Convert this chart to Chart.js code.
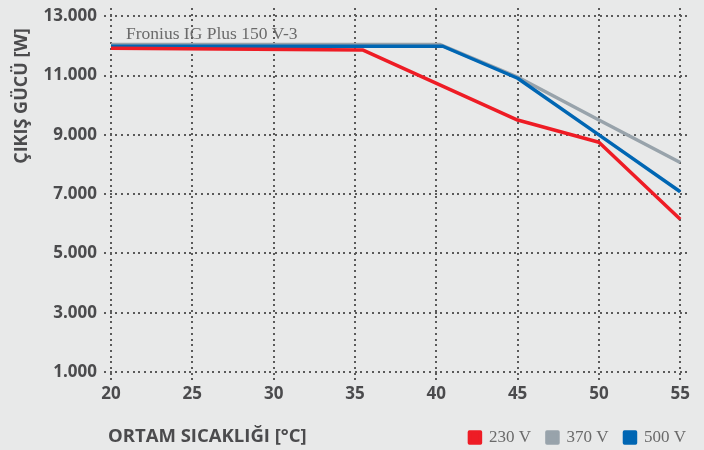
<!DOCTYPE html>
<html>
<head>
<meta charset="utf-8">
<script src="https://cdn.jsdelivr.net/npm/chart.js@4/dist/chart.umd.min.js"></script>
<style>
  html, body { margin: 0; padding: 0; background: #e8e9e9; }
  #wrap { width: 704px; height: 450px; }
</style>
</head>
<body>
<div id="wrap"><canvas id="c" width="704" height="450"></canvas></div>
<script>
// ---- data ----
const seriesLabels = ['230 V', '370 V', '500 V'];
const temp230 = [20, 35.5, 45, 50, 55];
const power230 = [11920, 11860, 9500, 8750, 6150];
const temp370 = [20, 40.2, 45, 50, 55];
const power370 = [12050, 12050, 10950, 9500, 8070];
const temp500 = [20, 40.4, 45, 50, 55];
const power500 = [11990, 11990, 10910, 9000, 7080];
const xTicks = [20, 25, 30, 35, 40, 45, 50, 55];
const yTicks = [1000, 3000, 5000, 7000, 9000, 11000, 13000];
const chartTitle = 'Fronius IG Plus 150 V-3';
const xTitle = 'ORTAM SICAKLIĞI [°C]';
const yTitle = 'ÇIKIŞ GÜCÜ [W]';

const colors = ['#ee1c25', '#98a3ab', '#0066b3'];
const textColor = '#4b4b4d';
const serifColor = '#6a6a6a';
const gridColor = '#5a5a5a';

function pts(xs, ys) { return xs.map((x, i) => ({ x: x, y: ys[i] })); }
function fmt(v) { return String(v).replace(/\B(?=(\d{3})+(?!\d))/g, '.'); }

// dotted grid drawn at the scales' tick pixels
const dotGrid = {
  id: 'dotGrid',
  beforeDatasetsDraw(chart) {
    const ctx = chart.ctx, a = chart.chartArea;
    const xs = chart.scales.x, ys = chart.scales.y;
    const tick = 7, step = 5.7, dot = 2;
    ctx.save();
    ctx.fillStyle = gridColor;
    xTicks.forEach(v => {
      const px = Math.round(xs.getPixelForValue(v)) - 1;
      for (let y = a.top; y <= a.bottom + tick; y += step) ctx.fillRect(px, Math.round(y), dot, dot);
    });
    yTicks.forEach(v => {
      const py = Math.round(ys.getPixelForValue(v)) - 1;
      for (let x = a.left - tick; x <= a.right; x += step) ctx.fillRect(Math.round(x), py, dot, dot);
    });
    ctx.restore();
  }
};

const textPlugin = {
  id: 'texts',
  afterLayout(chart) {
    const lg = chart.legend;
    if (lg) { lg.left += 12; lg.right += 12; lg.top += 6; lg.bottom += 6; }
  },
  afterDraw(chart) {
    const ctx = chart.ctx;
    ctx.save();
    ctx.font = '17.5px "Liberation Serif", "DejaVu Serif", serif';
    ctx.fillStyle = serifColor;
    ctx.textAlign = 'left';
    ctx.textBaseline = 'alphabetic';
    ctx.fillText(chartTitle, 126, 39);
    ctx.font = 'bold 18.5px "Open Sans", sans-serif';
    ctx.fillStyle = textColor;
    ctx.textBaseline = 'middle';
    ctx.fillText(xTitle, 108, 437);
    ctx.font = 'bold 18px "Open Sans", sans-serif';
    ctx.translate(22, 96);
    ctx.rotate(-Math.PI / 2);
    ctx.textAlign = 'center';
    ctx.fillText(yTitle, 0, 0);
    ctx.restore();
  }
};

const gridOff = { display: true, drawOnChartArea: false, drawTicks: true, tickLength: 7, tickColor: 'rgba(0,0,0,0)', color: 'rgba(0,0,0,0)' };

new Chart(document.getElementById('c'), {
  type: 'line',
  data: {
    datasets: [
      { label: seriesLabels[0], data: pts(temp230, power230), borderColor: colors[0], backgroundColor: colors[0], order: 0 },
      { label: seriesLabels[1], data: pts(temp370, power370), borderColor: colors[1], backgroundColor: colors[1], order: 2 },
      { label: seriesLabels[2], data: pts(temp500, power500), borderColor: colors[2], backgroundColor: colors[2], order: 1 }
    ]
  },
  options: {
    responsive: false,
    animation: false,
    devicePixelRatio: 1,
    elements: {
      line: { borderWidth: 3.5, tension: 0, borderCapStyle: 'butt', borderJoinStyle: 'round' },
      point: { radius: 0 }
    },
    layout: { padding: { top: 8, right: 14, left: 0, bottom: 0 } },
    plugins: {
      legend: {
        position: 'bottom',
        align: 'end',
        labels: {
          boxWidth: 11,
          boxHeight: 11,
          padding: 16,
          color: serifColor,
          sort: (a, b) => a.datasetIndex - b.datasetIndex,
          font: { family: '"Liberation Serif", "DejaVu Serif", serif', size: 17 }
        }
      },
      tooltip: { enabled: false }
    },
    scales: {
      x: {
        type: 'linear',
        min: 20,
        max: 55.6,
        afterBuildTicks: s => { s.ticks = xTicks.map(v => ({ value: v })); },
        afterFit: s => { s.height = 35; s.paddingLeft = 0; s.paddingRight = 0; },
        border: { display: false },
        grid: gridOff,
        ticks: {
          color: textColor,
          padding: 5,
          maxRotation: 0,
          font: { family: '"Open Sans", sans-serif', size: 17, weight: 'bold' }
        }
      },
      y: {
        type: 'linear',
        min: 1000,
        max: 13280,
        afterBuildTicks: s => { s.ticks = yTicks.map(v => ({ value: v })); },
        afterFit: s => { s.width = 111; s.paddingTop = 0; s.paddingBottom = 0; },
        border: { display: false },
        grid: gridOff,
        ticks: {
          color: textColor,
          padding: 7,
          callback: v => fmt(v),
          font: { family: '"Open Sans", sans-serif', size: 17, weight: 'bold' }
        }
      }
    }
  },
  plugins: [dotGrid, textPlugin]
});
</script>
</body>
</html>
